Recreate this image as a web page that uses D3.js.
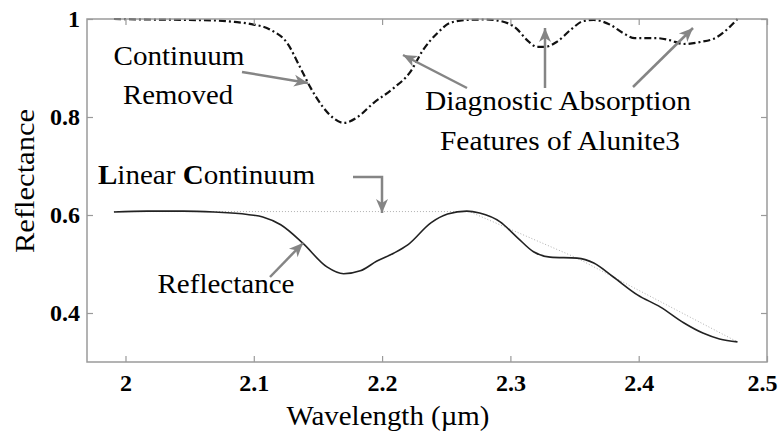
<!DOCTYPE html>
<html><head><meta charset="utf-8">
<script src="https://cdn.jsdelivr.net/npm/d3@7"></script>
<style>body{margin:0;background:#fff}svg{display:block}svg text{font-family:"Liberation Serif","DejaVu Serif","Noto Serif",serif}</style>
</head><body><svg id="c" width="778" height="436"></svg>
<script>
// Wavelength (µm) and reflectance values
const reflWave = [1.991,2.017,2.045,2.069,2.095,2.107,2.121,2.138,2.157,2.170,2.183,2.196,2.209,2.220,2.238,2.251,2.266,2.276,2.292,2.305,2.318,2.331,2.352,2.365,2.380,2.399,2.417,2.435,2.450,2.463,2.477];
const reflValues = [0.606,0.608,0.608,0.606,0.601,0.596,0.580,0.543,0.494,0.480,0.486,0.506,0.522,0.539,0.584,0.602,0.608,0.604,0.586,0.555,0.525,0.514,0.512,0.502,0.474,0.437,0.412,0.380,0.359,0.347,0.341];
const contWave = [1.991,2.268,2.352,2.477];
const contValues = [0.607,0.607,0.512,0.341];
const crWave = [1.991,2.02,2.05,2.07,2.085,2.097,2.113,2.126,2.136,2.144,2.154,2.162,2.170,2.181,2.193,2.209,2.222,2.232,2.243,2.253,2.266,2.280,2.292,2.305,2.313,2.321,2.327,2.336,2.347,2.357,2.365,2.378,2.388,2.397,2.414,2.424,2.435,2.448,2.461,2.471,2.477];
const crValues = [1.0,0.999,0.998,0.997,0.994,0.990,0.978,0.951,0.902,0.861,0.820,0.798,0.788,0.800,0.828,0.859,0.892,0.937,0.971,0.992,0.998,0.999,0.996,0.980,0.957,0.943,0.943,0.953,0.978,0.996,0.998,0.988,0.971,0.961,0.961,0.957,0.949,0.953,0.963,0.984,1.0];
const xTicks = [2,2.1,2.2,2.3,2.4,2.5];
const xTickLabels = ["2","2.1","2.2","2.3","2.4","2.5"];
const yTicks = [0.4,0.6,0.8,1];
const yTickLabels = ["0.4","0.6","0.8","1"];

const FONT='"Liberation Serif","DejaVu Serif","Noto Serif",serif';
const svg = d3.select("#c");
const L=87,R=767,T=19,B=362;
const x = d3.scaleLinear().domain([1.97,2.5]).range([L,R]);
const y = d3.scaleLinear().domain([0.3,1.0]).range([B,T]);
const axisCol="#9a9a9a";

// data lines
const mk = (w,v)=>w.map((d,i)=>[d,v[i]]);
const line = d3.line().x(d=>x(d[0])).y(d=>y(d[1])).curve(d3.curveMonotoneX);
const lin = d3.line().x(d=>x(d[0])).y(d=>y(d[1]));
svg.append("path").attr("d",lin(mk(contWave,contValues))).attr("fill","none").attr("stroke","#b0b0b0").attr("stroke-width",1).attr("stroke-dasharray","1,2");
svg.append("path").attr("d",line(mk(reflWave,reflValues))).attr("fill","none").attr("stroke","#222").attr("stroke-width",1.6);
svg.append("path").attr("d",line(mk(crWave,crValues))).attr("fill","none").attr("stroke","#111").attr("stroke-width",2.2).attr("stroke-dasharray","7,3,2,3");

// frame and ticks
svg.append("rect").attr("x",L).attr("y",T).attr("width",R-L).attr("height",B-T).attr("fill","none").attr("stroke",axisCol).attr("stroke-width",1.5);
const gx=svg.append("g").attr("transform",`translate(0,${B})`).call(d3.axisBottom(x).tickValues(xTicks).tickFormat((d,i)=>xTickLabels[i]).tickSizeInner(-6).tickSizeOuter(0).tickPadding(12));
const gxt=svg.append("g").attr("transform",`translate(0,${T})`).call(d3.axisTop(x).tickValues(xTicks).tickFormat("").tickSizeInner(-6).tickSizeOuter(0));
const gy=svg.append("g").attr("transform",`translate(${L},0)`).call(d3.axisLeft(y).tickValues(yTicks).tickFormat((d,i)=>yTickLabels[i]).tickSizeInner(-6).tickSizeOuter(0).tickPadding(7));
const gyr=svg.append("g").attr("transform",`translate(${R},0)`).call(d3.axisRight(y).tickValues(yTicks).tickFormat("").tickSizeInner(-6).tickSizeOuter(0));
[gx,gxt,gy,gyr].forEach(g=>{g.attr("font-family",FONT);g.select(".domain").remove();g.selectAll("line").attr("stroke",axisCol).attr("stroke-width",1.2);
 g.selectAll("text").attr("fill","#000").attr("font-family",FONT).attr("font-weight","bold").attr("font-size","24px");});
gx.selectAll("text").attr("dy","0.71em").attr("dx",(d,i)=>i===xTicks.length-1?-5:0);

// axis titles
const T2=(sel)=>sel.attr("font-family",FONT);
T2(svg.append("text")).attr("x",388).attr("y",425).attr("text-anchor","middle").attr("font-size","27px")
  .attr("textLength",203).attr("lengthAdjust","spacingAndGlyphs").text("Wavelength (µm)");
T2(svg.append("text")).attr("transform",`translate(34,181) rotate(-90)`).attr("text-anchor","middle").attr("font-size","28px")
  .attr("textLength",144).attr("lengthAdjust","spacingAndGlyphs").text("Reflectance");

// annotations
const ann = (t,xx,yy,w)=>T2(svg.append("text")).attr("x",xx).attr("y",yy).attr("text-anchor","middle").attr("font-size","28px")
  .attr("textLength",w).attr("lengthAdjust","spacingAndGlyphs").text(t);
ann("Continuum",179,65,131);
ann("Removed",178,104,110);
ann("Diagnostic Absorption",558,110,266);
ann("Features of Alunite3",560,150,240);
ann("Reflectance",226,293,137);
const lc=T2(svg.append("text")).attr("x",98).attr("y",184).attr("font-size","28px").attr("textLength",217).attr("lengthAdjust","spacingAndGlyphs");
lc.append("tspan").attr("font-weight","bold").text("L");
lc.append("tspan").text("inear ");
lc.append("tspan").attr("font-weight","bold").text("C");
lc.append("tspan").text("ontinuum");

// arrows
const ac="#858585";
function arrow(pts){
  svg.append("path").attr("d",d3.line()(pts)).attr("fill","none").attr("stroke",ac).attr("stroke-width",2.5);
  const [x1,y1]=pts[pts.length-2],[x2,y2]=pts[pts.length-1];
  const a=Math.atan2(y2-y1,x2-x1),len=14,w=6,back=10;
  const ux=Math.cos(a),uy=Math.sin(a),px=-uy,py=ux;
  const p=[[x2,y2],[x2-len*ux+w*px,y2-len*uy+w*py],[x2-back*ux,y2-back*uy],[x2-len*ux-w*px,y2-len*uy-w*py]];
  svg.append("path").attr("d","M"+p.map(q=>q.join(",")).join("L")+"Z").attr("fill",ac);
}
arrow([[242,72],[308,83]]);
arrow([[467,88],[403,55]]);
arrow([[545,88],[545,28]]);
arrow([[633,87],[693,28]]);
arrow([[353,177],[382,177],[382,213]]);
arrow([[270,277],[303,243]]);
</script></body></html>
